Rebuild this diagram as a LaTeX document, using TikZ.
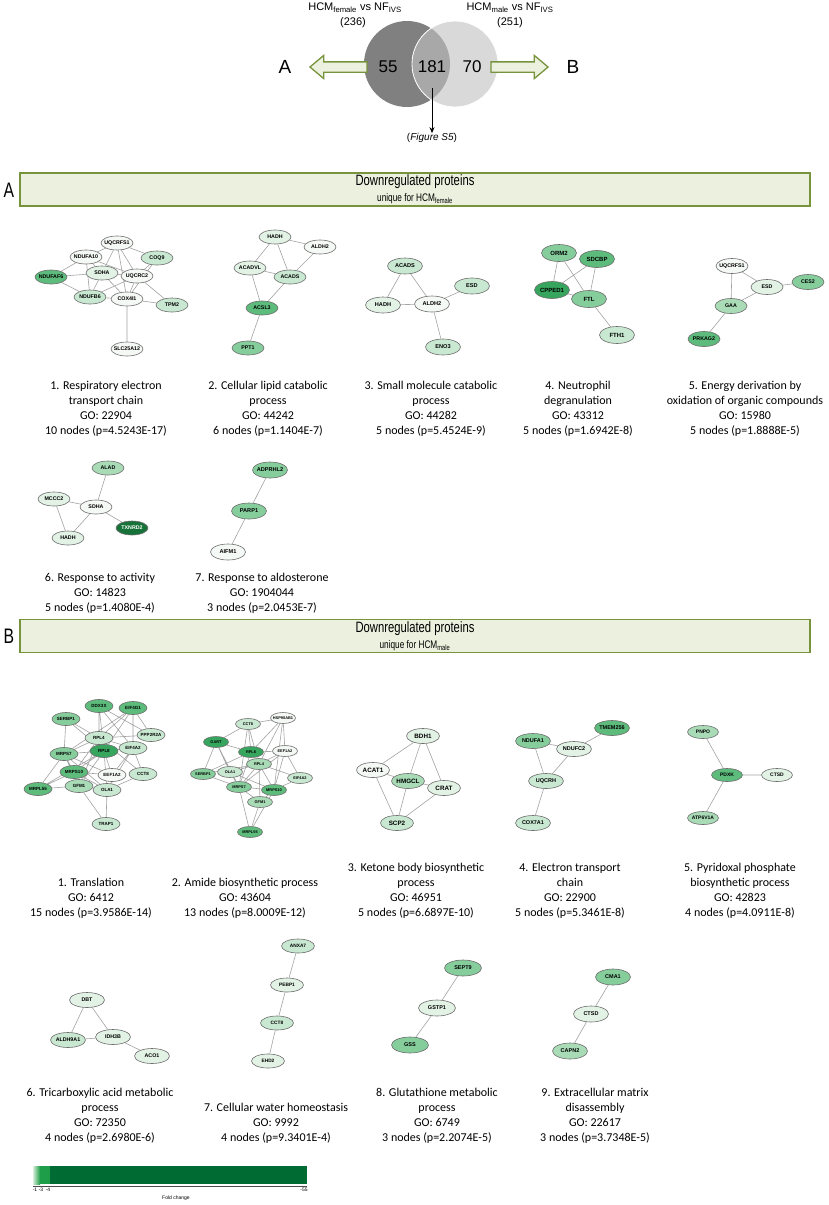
\documentclass[tikz,border=0pt]{standalone}
\usepackage{fontspec}
\setmainfont{Carlito}
\newfontfamily\arialfont{Liberation Sans}
\newfontfamily\narrowfont[FakeStretch=0.75]{Liberation Sans}
\usepackage{tikz}
\usetikzlibrary{shapes.geometric,shapes.arrows,arrows.meta,backgrounds}

\definecolor{edgegray}{HTML}{A3A3A3}
\definecolor{rimgray}{HTML}{6E6E6E}
\definecolor{g0}{HTML}{F5F9F5}
\definecolor{g1}{HTML}{E2F2E5}
\definecolor{g2}{HTML}{C9E8D1}
\definecolor{g3}{HTML}{A9DBB7}
\definecolor{g4}{HTML}{86CD9C}
\definecolor{g5}{HTML}{5DBB7C}
\definecolor{g6}{HTML}{36A55E}
\definecolor{g7}{HTML}{17723A}
\definecolor{olivedge}{HTML}{77933C}
\definecolor{olivefill}{HTML}{EBF1DE}
\definecolor{venndark}{HTML}{808080}
\definecolor{vennmid}{HTML}{A8A8A8}
\definecolor{vennlight}{HTML}{D9D9D9}
\definecolor{barlight}{HTML}{D5EDD9}
\definecolor{barmid}{HTML}{1E9E48}
\definecolor{bardark}{HTML}{006B33}

\tikzset{
  prot/.style={ellipse, draw=rimgray, line width=0.6pt, inner xsep=-2.5pt, inner ysep=0pt},
  sz/.style n args={3}{minimum width=#1pt, minimum height=#2pt, font=\arialfont\bfseries\fontsize{#3}{#3}\selectfont},
  ppi/.style={draw=edgegray, line width=0.6pt},
  c0/.style={fill=g0}, c1/.style={fill=g1}, c2/.style={fill=g2}, c3/.style={fill=g3},
  c4/.style={fill=g4}, c5/.style={fill=g5}, c6/.style={fill=g6}, c7/.style={fill=g7, text=white},
  caption/.style={anchor=south, align=center, inner sep=0pt, font=\fontsize{12}{15}\selectfont},
  hdrbox/.style={draw=olivedge, fill=olivefill, line width=1.6pt, minimum width=790pt, minimum height=33pt, inner sep=0pt},
  hdrtitle/.style={inner sep=0pt, font=\narrowfont\fontsize{15}{17}\selectfont},
  hdrsub/.style={inner sep=0pt, font=\narrowfont\fontsize{11}{13}\selectfont},
  seclabel/.style={inner sep=0pt, font=\narrowfont\fontsize{21}{24}\selectfont},
  venntitle/.style={inner sep=0pt, font=\arialfont\fontsize{11}{13}\selectfont},
  vennnum/.style={inner sep=0pt, font=\arialfont\fontsize{17}{20}\selectfont},
  vennletter/.style={inner sep=0pt, font=\arialfont\fontsize{19}{22}\selectfont},
  blockarrow/.style={single arrow, draw=olivedge, fill=olivefill, line width=1.3pt, inner xsep=0pt, inner ysep=4.5pt, single arrow head extend=6.5pt, single arrow tip angle=80, minimum height=57pt},
  barlabel/.style={inner sep=0pt, font=\arialfont\fontsize{5}{6}\selectfont},
}

\begin{document}
\begin{tikzpicture}[x=1pt, y=-1pt]
  \useasboundingbox (0,0) rectangle (829,1205);
  \begin{scope}[on background layer]
    \fill[white] (0,0) rectangle (829,1205);
  \end{scope}

  % Venn diagram
  \fill[venndark] (407,64) circle[radius=43];
  \fill[vennlight] (455,64) circle[radius=43];
  \begin{scope}
    \clip (407,64) circle[radius=43];
    \fill[vennmid] (455,64) circle[radius=43];
  \end{scope}
  \draw[white, line width=0.8pt] (455,64) circle[radius=43];
  \node[blockarrow, shape border rotate=180] (arrA) at (341.5,67) {};
  \node[blockarrow] (arrB) at (516.5,67) {};
  \node[vennletter] (lblA) at (285,67) {A};
  \node[vennletter] (lblB) at (573,67) {B};
  \node[vennnum] (n55) at (388,67) {55};
  \node[vennnum] (n181) at (432,67) {181};
  \node[vennnum] (n70) at (472,67) {70};
  \node[venntitle] (setF) at (355,8) {HCM\textsubscript{female} vs NF\textsubscript{IVS}};
  \node[venntitle] (cntF) at (353,23) {(236)};
  \node[venntitle] (setM) at (510,8) {HCM\textsubscript{male} vs NF\textsubscript{IVS}};
  \node[venntitle] (cntM) at (510,23) {(251)};
  \coordinate (lens) at (432,88);
  \node[venntitle, font=\arialfont\fontsize{10}{12}\selectfont] (figS5) at (432,138) {(\textit{Figure S5})};
  \draw[-{Stealth[length=6pt,width=5pt]}, line width=0.8pt] (lens) -- (figS5);

  % section A header
  \node[hdrbox] (hdrA) at (415,189.5) {};
  \node[hdrtitle] (hdrAtitle) at (415,182) {Downregulated proteins};
  \node[hdrsub] (hdrAsub) at (415,199) {unique for HCM\textsubscript{female}};
  \node[seclabel] (secA) at (9,190) {A};

  % A1 respiratory electron transport chain
  \begin{scope}[nodes={sz={32}{14}{5.3}}]
    \node[prot,c0] (a1uqcrfs1) at (117,243) {UQCRFS1};
    \node[prot,c0] (a1ndufa10) at (86,257) {NDUFA10};
    \node[prot,c2] (a1coq9) at (157,258) {COQ9};
    \node[prot,c5] (a1ndufaf6) at (51,277) {NDUFAF6};
    \node[prot,c1] (a1sdha) at (102,273) {SDHA};
    \node[prot,c0] (a1uqcrc2) at (137,276) {UQCRC2};
    \node[prot,c2] (a1ndufb6) at (90,297) {NDUFB6};
    \node[prot,c0] (a1cox4i1) at (127,299) {COX4I1};
    \node[prot,c2] (a1tpm2) at (172,305) {TPM2};
    \node[prot,c0] (a1slc25a12) at (127,349) {SLC25A12};
  \end{scope}
  % A2 cellular lipid catabolic process
  \begin{scope}[nodes={sz={32}{14}{5.3}}]
    \node[prot,c1] (a2hadh) at (275,237) {HADH};
    \node[prot,c0] (a2aldh2) at (320,247) {ALDH2};
    \node[prot,c1] (a2acadvl) at (250,268) {ACADVL};
    \node[prot,c2] (a2acads) at (290,277) {ACADS};
    \node[prot,c5] (a2acsl3) at (262,308) {ACSL3};
    \node[prot,c4] (a2ppt1) at (248,348) {PPT1};
  \end{scope}
  % A3 small molecule catabolic process
  \begin{scope}[nodes={sz={35}{16}{5.6}}]
    \node[prot,c2] (a3acads) at (405,266) {ACADS};
    \node[prot,c1] (a3hadh) at (383,305) {HADH};
    \node[prot,c0] (a3aldh2) at (432,304) {ALDH2};
    \node[prot,c2] (a3esd) at (472,286) {ESD};
    \node[prot,c2] (a3eno3) at (443,347) {ENO3};
  \end{scope}
  % A4 neutrophil degranulation
  \begin{scope}[nodes={sz={35}{17}{6}}]
    \node[prot,c4] (a4orm2) at (559,253) {ORM2};
    \node[prot,c5] (a4sdcbp) at (597,259) {SDCBP};
    \node[prot,c6] (a4cpped1) at (552,290) {CPPED1};
    \node[prot,c4] (a4ftl) at (589,299) {FTL};
    \node[prot,c2] (a4fth1) at (617,335) {FTH1};
  \end{scope}
  % A5 energy derivation
  \begin{scope}[nodes={sz={32}{15}{5.3}}]
    \node[prot,c0] (a5uqcrfs1) at (732,266) {UQCRFS1};
    \node[prot,c1] (a5esd) at (767,287) {ESD};
    \node[prot,c4] (a5ces2) at (808,282) {CES2};
    \node[prot,c3] (a5gaa) at (731,306) {GAA};
    \node[prot,c5] (a5prkag2) at (704,339) {PRKAG2};
  \end{scope}
  % A6 response to activity
  \begin{scope}[nodes={sz={32}{14}{5.3}}]
    \node[prot,c3] (a6alad) at (108,468) {ALAD};
    \node[prot,c1] (a6mccc2) at (54,499) {MCCC2};
    \node[prot,c0] (a6sdha) at (96,507) {SDHA};
    \node[prot,c7] (a6txnrd2) at (132,528) {TXNRD2};
    \node[prot,c1] (a6hadh) at (68,538) {HADH};
  \end{scope}
  % A7 response to aldosterone
  \begin{scope}[nodes={sz={35}{16}{5.6}}]
    \node[prot,c4] (a7adprhl2) at (270,470) {ADPRHL2};
    \node[prot,c4] (a7parp1) at (249,511) {PARP1};
    \node[prot,c0] (a7aifm1) at (228,552) {AIFM1};
  \end{scope}

  \node[caption] (capA1) at (106,437) {1. Respiratory electron\\transport chain\\GO: 22904\\10 nodes (p=4.5243E-17)};
  \node[caption] (capA2) at (268,437) {2. Cellular lipid catabolic\\process\\GO: 44242\\6 nodes (p=1.1404E-7)};
  \node[caption] (capA3) at (431,437) {3. Small molecule catabolic\\process\\GO: 44282\\5 nodes (p=5.4524E-9)};
  \node[caption] (capA4) at (578,437) {4. Neutrophil\\degranulation\\GO: 43312\\5 nodes (p=1.6942E-8)};
  \node[caption] (capA5) at (745,437) {5. Energy derivation by\\oxidation of organic compounds\\GO: 15980\\5 nodes (p=1.8888E-5)};
  \node[caption] (capA6) at (100,614) {6. Response to activity\\GO: 14823\\5 nodes (p=1.4080E-4)};
  \node[caption] (capA7) at (262,614) {7. Response to aldosterone\\GO: 1904044\\3 nodes (p=2.0453E-7)};

  % section B header
  \node[hdrbox] (hdrB) at (415,636) {};
  \node[hdrtitle] (hdrBtitle) at (415,628.5) {Downregulated proteins};
  \node[hdrsub] (hdrBsub) at (415,645.5) {unique for HCM\textsubscript{male}};
  \node[seclabel] (secB) at (9,636.5) {B};

  % B1 translation
  \begin{scope}[nodes={sz={28}{13}{4.5}}]
    \node[prot,c5] (b1ddx3x) at (99,706) {DDX3X};
    \node[prot,c5] (b1eif4g1) at (133,708) {EIF4G1};
    \node[prot,c4] (b1serbp1) at (66,719) {SERBP1};
    \node[prot,c2] (b1ppp2r2a) at (151,735) {PPP2R2A};
    \node[prot,c2] (b1rpl4) at (99,738) {RPL4};
    \node[prot,c2] (b1eif4a2) at (133,748) {EIF4A2};
    \node[prot,c6] (b1rpl8) at (104,751) {RPL8};
    \node[prot,c4] (b1mrps7) at (64,754) {MRPS7};
    \node[prot,c5] (b1mrps10) at (74,772) {MRPS10};
    \node[prot,c0] (b1eef1a2) at (112,775) {EEF1A2};
    \node[prot,c2] (b1cct8) at (143,774) {CCT8};
    \node[prot,c5] (b1mrpl55) at (38,789) {MRPL55};
    \node[prot,c3] (b1gfm1) at (79,786) {GFM1};
    \node[prot,c2] (b1ola1) at (107,790) {OLA1};
    \node[prot,c2] (b1trap1) at (106,824) {TRAP1};
  \end{scope}
  % B2 amide biosynthetic process
  \begin{scope}[nodes={sz={25}{11}{3.9}}]
    \node[prot,c2] (b2cct8) at (248,724) {CCT8};
    \node[prot,c0] (b2hsp90ab1) at (283,718) {HSP90AB1};
    \node[prot,c6] (b2gart) at (216,742) {GART};
    \node[prot,c6] (b2rpl8) at (251,752) {RPL8};
    \node[prot,c0] (b2eef1a2) at (285,751) {EEF1A2};
    \node[prot,c3] (b2rpl4) at (259,764) {RPL4};
    \node[prot,c4] (b2serbp1) at (203,774) {SERBP1};
    \node[prot,c2] (b2ola1) at (230,772) {OLA1};
    \node[prot,c2] (b2eif4a2) at (300,778) {EIF4A2};
    \node[prot,c4] (b2mrps7) at (239,787) {MRPS7};
    \node[prot,c5] (b2mrps10) at (274,790) {MRPS10};
    \node[prot,c3] (b2gfm1) at (260,802) {GFM1};
    \node[prot,c5] (b2mrpl55) at (250,832) {MRPL55};
  \end{scope}
  % B3 ketone body biosynthetic process
  \begin{scope}[nodes={sz={33}{15}{6.3}}]
    \node[prot,c1] (b3bdh1) at (423,736) {BDH1};
    \node[prot,c0] (b3acat1) at (373,770) {ACAT1};
    \node[prot,c3] (b3hmgcl) at (408,781) {HMGCL};
    \node[prot,c1] (b3crat) at (444,788) {CRAT};
    \node[prot,c2] (b3scp2) at (397,823) {SCP2};
  \end{scope}
  % B4 electron transport chain
  \begin{scope}[nodes={sz={35}{15}{5.5}}]
    \node[prot,c4] (b4ndufa1) at (533,741) {NDUFA1};
    \node[prot,c1] (b4ndufc2) at (574,749) {NDUFC2};
    \node[prot,c5] (b4tmem256) at (612,728) {TMEM256};
    \node[prot,c2] (b4uqcrh) at (546,781) {UQCRH};
    \node[prot,c2] (b4cox7a1) at (533,823) {COX7A1};
  \end{scope}
  % B5 pyridoxal phosphate biosynthetic process
  \begin{scope}[nodes={sz={31}{13}{5}}]
    \node[prot,c3] (b5pnpo) at (703,732) {PNPO};
    \node[prot,c5] (b5pdxk) at (727,775) {PDXK};
    \node[prot,c1] (b5ctsd) at (777,775) {CTSD};
    \node[prot,c3] (b5atp6v1a) at (703,818) {ATP6V1A};
  \end{scope}

  \node[caption] (capB1) at (91,919) {1. Translation\\GO: 6412\\15 nodes (p=3.9586E-14)};
  \node[caption] (capB2) at (245,919) {2. Amide biosynthetic process\\GO: 43604\\13 nodes (p=8.0009E-12)};
  \node[caption] (capB3) at (416,919) {3. Ketone body biosynthetic\\process\\GO: 46951\\5 nodes (p=6.6897E-10)};
  \node[caption] (capB4) at (570,919) {4. Electron transport\\chain\\GO: 22900\\5 nodes (p=5.3461E-8)};
  \node[caption] (capB5) at (740,919) {5. Pyridoxal phosphate\\biosynthetic process\\GO: 42823\\4 nodes (p=4.0911E-8)};

  % B6 tricarboxylic acid metabolic process
  \begin{scope}[nodes={sz={35}{15}{5.3}}]
    \node[prot,c1] (b6dbt) at (87,1000) {DBT};
    \node[prot,c2] (b6aldh9a1) at (68,1040) {ALDH9A1};
    \node[prot,c1] (b6idh3b) at (113,1037) {IDH3B};
    \node[prot,c1] (b6aco1) at (152,1056) {ACO1};
  \end{scope}
  % B7 cellular water homeostasis
  \begin{scope}[nodes={sz={33}{14}{4.8}}]
    \node[prot,c2] (b7anxa7) at (298,946) {ANXA7};
    \node[prot,c1] (b7pebp1) at (287,985) {PEBP1};
    \node[prot,c2] (b7cct8) at (277,1023) {CCT8};
    \node[prot,c1] (b7ehd2) at (268,1061) {EHD2};
  \end{scope}
  % B8 glutathione metabolic process
  \begin{scope}[nodes={sz={37}{16}{5.5}}]
    \node[prot,c4] (b8sept9) at (463,968) {SEPT9};
    \node[prot,c1] (b8gstp1) at (437,1008) {GSTP1};
    \node[prot,c4] (b8gss) at (410,1045) {GSS};
  \end{scope}
  % B9 extracellular matrix disassembly
  \begin{scope}[nodes={sz={35}{16}{5.5}}]
    \node[prot,c4] (b9cma1) at (613,977) {CMA1};
    \node[prot,c1] (b9ctsd) at (591,1014) {CTSD};
    \node[prot,c3] (b9capn2) at (570,1051) {CAPN2};
  \end{scope}

  \node[caption] (capB6) at (100,1144) {6. Tricarboxylic acid metabolic\\process\\GO: 72350\\4 nodes (p=2.6980E-6)};
  \node[caption] (capB7) at (276,1144) {7. Cellular water homeostasis\\GO: 9992\\4 nodes (p=9.3401E-4)};
  \node[caption] (capB8) at (437,1144) {8. Glutathione metabolic\\process\\GO: 6749\\3 nodes (p=2.2074E-5)};
  \node[caption] (capB9) at (595,1144) {9. Extracellular matrix\\disassembly\\GO: 22617\\3 nodes (p=3.7348E-5)};

  % interaction edges
  \begin{scope}[on background layer]
    \draw[ppi] (a1uqcrfs1) -- (a1ndufa10) (a1uqcrfs1) -- (a1coq9) (a1uqcrfs1) -- (a1sdha)
      (a1uqcrfs1) -- (a1uqcrc2) (a1uqcrfs1) -- (a1cox4i1) (a1uqcrfs1) -- (a1ndufb6)
      (a1ndufa10) -- (a1ndufaf6) (a1ndufa10) -- (a1sdha) (a1ndufa10) -- (a1ndufb6)
      (a1ndufa10) -- (a1uqcrc2) (a1ndufaf6) -- (a1sdha) (a1ndufaf6) -- (a1ndufb6)
      (a1sdha) -- (a1uqcrc2) (a1sdha) -- (a1ndufb6) (a1sdha) -- (a1cox4i1)
      (a1uqcrc2) -- (a1cox4i1) (a1uqcrc2) -- (a1ndufb6) (a1uqcrc2) -- (a1tpm2)
      (a1coq9) -- (a1cox4i1) (a1coq9) -- (a1uqcrc2) (a1cox4i1) -- (a1tpm2)
      (a1cox4i1) -- (a1slc25a12) (a1ndufb6) -- (a1cox4i1);
    \draw[ppi] (a2hadh) -- (a2aldh2) (a2hadh) -- (a2acadvl) (a2hadh) -- (a2acads)
      (a2aldh2) -- (a2acads) (a2acadvl) -- (a2acads) (a2acadvl) -- (a2acsl3)
      (a2acads) -- (a2acsl3) (a2acsl3) -- (a2ppt1);
    \draw[ppi] (a3acads) -- (a3hadh) (a3acads) -- (a3aldh2) (a3hadh) -- (a3aldh2)
      (a3aldh2) -- (a3esd) (a3aldh2) -- (a3eno3);
    \draw[ppi] (a4orm2) -- (a4cpped1) (a4orm2) -- (a4ftl) (a4sdcbp) -- (a4cpped1)
      (a4sdcbp) -- (a4ftl) (a4cpped1) -- (a4ftl) (a4ftl) -- (a4fth1);
    \draw[ppi] (a5uqcrfs1) -- (a5esd) (a5uqcrfs1) -- (a5gaa) (a5esd) -- (a5ces2)
      (a5esd) -- (a5gaa) (a5gaa) -- (a5prkag2);
    \draw[ppi] (a6alad) -- (a6sdha) (a6mccc2) -- (a6sdha) (a6mccc2) -- (a6hadh)
      (a6sdha) -- (a6hadh) (a6sdha) -- (a6txnrd2);
    \draw[ppi] (a7adprhl2) -- (a7parp1) (a7parp1) -- (a7aifm1);
    \draw[ppi] (b1ddx3x) -- (b1rpl4) (b1ddx3x) -- (b1rpl8) (b1ddx3x) -- (b1eif4a2)
      (b1ddx3x) -- (b1ppp2r2a) (b1eif4g1) -- (b1rpl4) (b1eif4g1) -- (b1eif4a2)
      (b1eif4g1) -- (b1ppp2r2a) (b1eif4g1) -- (b1rpl8) (b1eif4g1) -- (b1mrps7)
      (b1serbp1) -- (b1rpl4) (b1serbp1) -- (b1mrps7) (b1serbp1) -- (b1rpl8)
      (b1rpl4) -- (b1rpl8) (b1rpl4) -- (b1eif4a2) (b1rpl4) -- (b1ppp2r2a)
      (b1rpl4) -- (b1mrps7) (b1rpl4) -- (b1mrps10) (b1rpl4) -- (b1gfm1) (b1rpl4) -- (b1cct8)
      (b1rpl8) -- (b1mrps7) (b1rpl8) -- (b1mrps10) (b1rpl8) -- (b1gfm1) (b1rpl8) -- (b1ola1)
      (b1rpl8) -- (b1eef1a2) (b1rpl8) -- (b1eif4a2) (b1rpl8) -- (b1mrpl55)
      (b1mrps7) -- (b1mrps10) (b1mrps7) -- (b1mrpl55) (b1mrps7) -- (b1eef1a2)
      (b1mrps7) -- (b1ola1) (b1mrps7) -- (b1gfm1) (b1mrps10) -- (b1mrpl55)
      (b1mrps10) -- (b1gfm1) (b1mrps10) -- (b1ola1) (b1mrps10) -- (b1eef1a2)
      (b1mrpl55) -- (b1gfm1) (b1gfm1) -- (b1ola1) (b1gfm1) -- (b1trap1) (b1ola1) -- (b1trap1)
      (b1eef1a2) -- (b1eif4a2) (b1eif4a2) -- (b1ola1) (b1cct8) -- (b1ola1) (b1cct8) -- (b1eif4a2);
    \draw[ppi] (b2cct8) -- (b2hsp90ab1) (b2cct8) -- (b2gart) (b2cct8) -- (b2rpl8)
      (b2cct8) -- (b2rpl4) (b2cct8) -- (b2mrps7) (b2hsp90ab1) -- (b2rpl8)
      (b2hsp90ab1) -- (b2rpl4) (b2hsp90ab1) -- (b2eef1a2) (b2hsp90ab1) -- (b2mrps10)
      (b2gart) -- (b2rpl8) (b2gart) -- (b2serbp1) (b2gart) -- (b2ola1) (b2gart) -- (b2mrps7)
      (b2rpl8) -- (b2eef1a2) (b2rpl8) -- (b2rpl4) (b2rpl8) -- (b2mrps7) (b2rpl8) -- (b2serbp1)
      (b2eef1a2) -- (b2rpl4) (b2eef1a2) -- (b2eif4a2) (b2eef1a2) -- (b2mrps10) (b2eef1a2) -- (b2mrps7)
      (b2rpl4) -- (b2serbp1) (b2rpl4) -- (b2mrps7) (b2rpl4) -- (b2mrps10) (b2rpl4) -- (b2gfm1)
      (b2rpl4) -- (b2ola1) (b2rpl4) -- (b2eif4a2) (b2serbp1) -- (b2mrps7)
      (b2ola1) -- (b2mrps7) (b2ola1) -- (b2mrps10) (b2mrps7) -- (b2mrps10) (b2mrps7) -- (b2gfm1)
      (b2mrps7) -- (b2mrpl55) (b2mrps10) -- (b2gfm1) (b2mrps10) -- (b2mrpl55)
      (b2gfm1) -- (b2mrpl55) (b2mrps10) -- (b2eif4a2);
    \draw[ppi] (b3acat1) -- (b3bdh1) (b3acat1) -- (b3hmgcl) (b3acat1) -- (b3scp2)
      (b3bdh1) -- (b3hmgcl) (b3bdh1) -- (b3crat) (b3hmgcl) -- (b3crat)
      (b3hmgcl) -- (b3scp2) (b3crat) -- (b3scp2);
    \draw[ppi] (b4ndufa1) -- (b4ndufc2) (b4ndufa1) -- (b4uqcrh) (b4ndufc2) -- (b4uqcrh)
      (b4ndufc2) -- (b4tmem256) (b4uqcrh) -- (b4cox7a1);
    \draw[ppi] (b5pnpo) -- (b5pdxk) (b5pdxk) -- (b5ctsd) (b5pdxk) -- (b5atp6v1a);
    \draw[ppi] (b6dbt) -- (b6aldh9a1) (b6dbt) -- (b6idh3b) (b6aldh9a1) -- (b6idh3b)
      (b6idh3b) -- (b6aco1);
    \draw[ppi] (b7anxa7) -- (b7pebp1) (b7pebp1) -- (b7cct8) (b7cct8) -- (b7ehd2);
    \draw[ppi] (b8sept9) -- (b8gstp1) (b8gstp1) -- (b8gss);
    \draw[ppi] (b9cma1) -- (b9ctsd) (b9ctsd) -- (b9capn2);
  \end{scope}

  % fold change colour bar
  \shade[left color=barlight, right color=barmid] (33,1166) rectangle (40,1184);
  \fill[barmid] (40,1166) rectangle (50,1184);
  \fill[bardark] (50,1166) rectangle (307,1184);
  \coordinate (barL) at (33,1186.5);
  \coordinate (barR) at (307,1186.5);
  \draw[black!70, line width=0.4pt] (barL) -- (barR);
  \node[barlabel] (tick1) at (35,1190) {-1};
  \node[barlabel] (tick3) at (41,1190) {-3};
  \node[barlabel] (tick4) at (48,1190) {-4};
  \node[barlabel] (tick55) at (304,1190) {-55};
  \node[barlabel] (foldlbl) at (176,1198) {Fold change};
\end{tikzpicture}
\end{document}
